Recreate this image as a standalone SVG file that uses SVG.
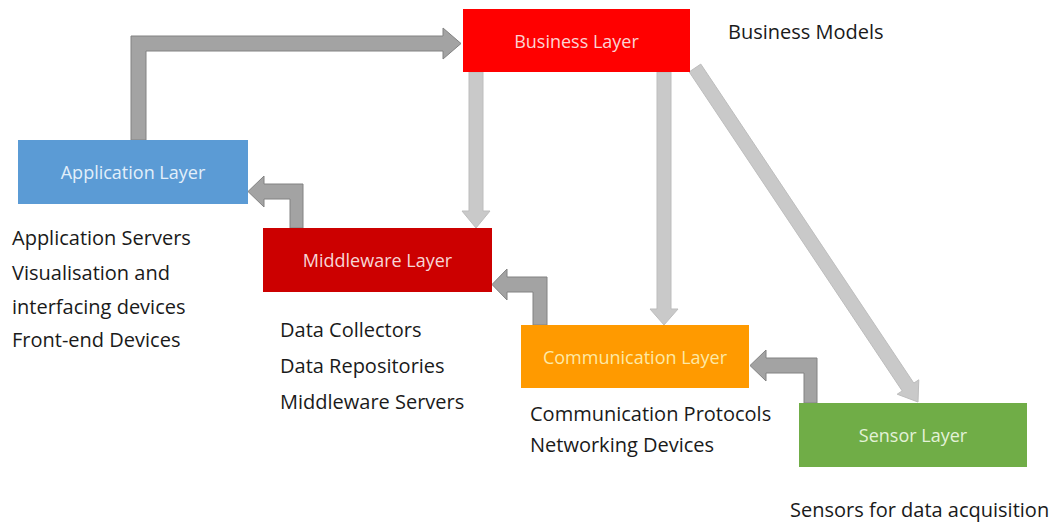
<svg xmlns="http://www.w3.org/2000/svg" width="1058" height="522" viewBox="0 0 1058 522">
<style>
.node-label{font-family:"Open Sans","Liberation Sans",sans-serif;font-size:18px;text-anchor:middle;dominant-baseline:central}
.note{font-family:"Open Sans","Liberation Sans",sans-serif;font-size:20px;fill:#1a1a1a}
.dark{fill:#a3a3a3;stroke:#828282;stroke-width:1}
.light{fill:#c9c9c9;stroke:#bdbdbd;stroke-width:1}
</style>
<rect width="1058" height="522" fill="#ffffff"/>
<g id="connectors">
<polygon class="dark" points="131,140 131,36 443,36 443,28 461,43.5 443,59 443,51 146,51 146,140"/>
<polygon class="light" points="469,72 483,72 483,211 490,211 476,228 462,211 469,211"/>
<polygon class="light" points="657,72 671,72 671,309 678,309 664,325 650,309 657,309"/>
<polygon class="light" points="700.8,64.1 913.8,383.1 918.8,379.8 918,402 897.2,394.2 902.2,390.9 689.2,71.9"/>
<polygon class="dark" points="303,228 303,184 264,184 264,176 248,191.5 264,207 264,199 290,199 290,228"/>
<polygon class="dark" points="547,325 547,277 507,277 507,269 492,284.5 507,300 507,292 533,292 533,325"/>
<polygon class="dark" points="817,403 817,358 766,358 766,350 750,365.5 766,381 766,373 804,373 804,403"/>
</g>
<g id="business">
<rect x="463" y="9" width="227" height="63" fill="#ff0000"/>
<text class="node-label" x="576.5" y="40.5" fill="#fbd3d3">Business Layer</text>
</g>
<g id="application">
<rect x="18" y="140" width="230" height="64" fill="#5b9bd5"/>
<text class="node-label" x="133" y="172" fill="#e2effa">Application Layer</text>
</g>
<g id="middleware">
<rect x="263" y="228" width="229" height="64" fill="#cc0000"/>
<text class="node-label" x="377.5" y="260" fill="#f7d6d6">Middleware Layer</text>
</g>
<g id="communication">
<rect x="521" y="325" width="228" height="63" fill="#ff9a00"/>
<text class="node-label" x="635" y="356.5" fill="#fde9a6">Communication Layer</text>
</g>
<g id="sensor">
<rect x="799" y="403" width="228" height="64" fill="#70ad47"/>
<text class="node-label" x="913" y="435" fill="#e3f2d8">Sensor Layer</text>
</g>
<g id="notes">
<text class="note" x="728" y="39">Business Models</text>
<text class="note" x="12" y="245">Application Servers</text>
<text class="note" x="12" y="280">Visualisation and</text>
<text class="note" x="12" y="314">interfacing devices</text>
<text class="note" x="12" y="347">Front-end Devices</text>
<text class="note" x="280" y="337">Data Collectors</text>
<text class="note" x="280" y="373">Data Repositories</text>
<text class="note" x="280" y="409">Middleware Servers</text>
<text class="note" x="530" y="421">Communication Protocols</text>
<text class="note" x="530" y="452">Networking Devices</text>
<text class="note" x="790" y="517">Sensors for data acquisition</text>
</g>
</svg>
